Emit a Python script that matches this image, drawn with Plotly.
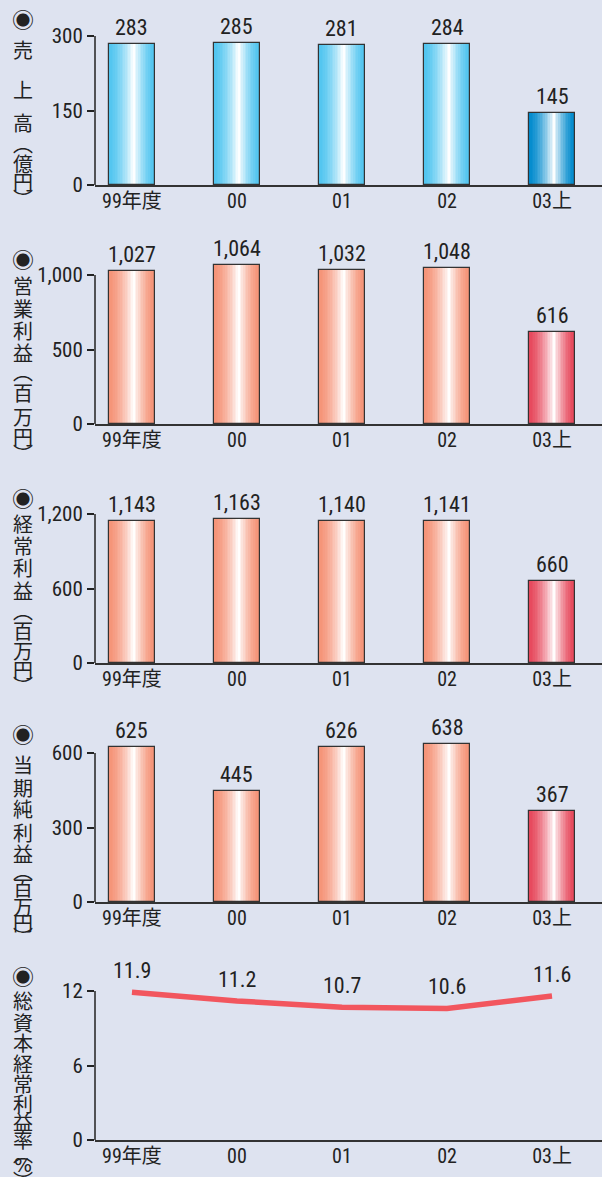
import plotly.graph_objects as go

# ---------------- data ----------------
categories = ["99年度", "00", "01", "02", "03上"]
sales = [283, 285, 281, 284, 145]               # 売上高(億円)
op_profit = [1027, 1064, 1032, 1048, 616]       # 営業利益(百万円)
ord_profit = [1143, 1163, 1140, 1141, 660]      # 経常利益(百万円)
net_profit = [625, 445, 626, 638, 367]          # 当期純利益(百万円)
roa = [11.9, 11.2, 10.7, 10.6, 11.6]            # 総資本経常利益率(%)

sales_ticks = [0, 150, 300]
op_ticks = [0, 500, 1000]
ord_ticks = [0, 600, 1200]
net_ticks = [0, 300, 600]
roa_ticks = [0, 6, 12]

value_fmt = ["{:,}", "{:,}", "{:,}", "{:,}", "{:.1f}"]

# ---------------- layout constants ----------------
W, H = 602, 1177
BG = "#dee3f0"
NUM_FONT = "Roboto Condensed, Noto Sans CJK JP"
CJK_FONT = "Noto Sans CJK JP"
TXT = "#222222"

zero_px = [185, 424, 663, 902, 1140]
top_tick_px = 149   # distance from zero to top tick
plot_h_px = 175
x_left_px = 95
x_range = [-0.352, 4.476]
bar_w = 0.438

blue_edge = (80, 197, 240)
blue_dark_edge = (0, 138, 205)
orange_edge = (245, 146, 118)
red_edge = (230, 70, 90)

panels = [
    dict(vals=sales, ticks=sales_ticks, kind="bar", edges=[blue_edge] * 4 + [blue_dark_edge]),
    dict(vals=op_profit, ticks=op_ticks, kind="bar", edges=[orange_edge] * 4 + [red_edge]),
    dict(vals=ord_profit, ticks=ord_ticks, kind="bar", edges=[orange_edge] * 4 + [red_edge]),
    dict(vals=net_profit, ticks=net_ticks, kind="bar", edges=[orange_edge] * 4 + [red_edge]),
    dict(vals=roa, ticks=roa_ticks, kind="line", edges=None),
]

side_labels = [
    [("◉", 18), ("売", 50), ("上", 90), ("高", 123), ("︵", 143), ("億", 163), ("円", 182), ("︶", 198)],
    [("◉", 258), ("営", 285), ("業", 308), ("利", 330), ("益", 352), ("︵", 372), ("百", 393), ("万", 416), ("円", 437), ("︶", 453)],
    [("◉", 497), ("経", 524), ("常", 546), ("利", 568), ("益", 590), ("︵", 610), ("百", 630), ("万", 650), ("円", 669), ("︶", 685)],
    [("◉", 733), ("当", 764), ("期", 787), ("純", 808), ("利", 832), ("益", 853), ("︵", 870), ("百", 887), ("万", 906), ("円", 922), ("︶", 936)],
    [("◉", 975), ("総", 1000), ("資", 1022), ("本", 1042), ("経", 1063), ("常", 1083), ("利", 1103), ("益", 1121), ("率", 1139), ("︵", 1153), ("%", 1165), ("︶", 1181)],
]

N_STRIPS = 28
PEAK = 0.55


def mix(c, t):
    r = int(round(c[0] + (255 - c[0]) * t))
    g = int(round(c[1] + (255 - c[1]) * t))
    b = int(round(c[2] + (255 - c[2]) * t))
    return f"rgb({r},{g},{b})"


def whiteness(t):
    if t <= PEAK:
        d = (PEAK - t) / PEAK
    else:
        d = (t - PEAK) / (1 - PEAK)
    return max(0.0, 1 - d) ** 1.6


fig = go.Figure()
layout_axes = {}
annotations = []
shapes = []
xs = list(range(len(categories)))

for i, p in enumerate(panels):
    n = i + 1
    xa = "x" if n == 1 else f"x{n}"
    ya = "y" if n == 1 else f"y{n}"
    top_tick = p["ticks"][-1]
    y_top = top_tick * plot_h_px / top_tick_px
    dom_bottom = 1 - zero_px[i] / H
    dom_top = 1 - (zero_px[i] - plot_h_px) / H

    if p["kind"] == "bar":
        sw = bar_w / N_STRIPS
        for k in range(N_STRIPS):
            t = (k + 0.5) / N_STRIPS
            wv = whiteness(t)
            cols = [mix(e, wv) for e in p["edges"]]
            fig.add_trace(go.Bar(
                x=xs, y=p["vals"], xaxis=xa, yaxis=ya,
                width=sw * 1.08, offset=-bar_w / 2 + k * sw,
                marker=dict(color=cols, line=dict(width=0)),
                showlegend=False, hoverinfo="skip",
            ))
        fig.add_trace(go.Bar(
            x=xs, y=p["vals"], xaxis=xa, yaxis=ya,
            width=bar_w, offset=-bar_w / 2,
            marker=dict(color="rgba(0,0,0,0)", line=dict(color="#333333", width=1.2)),
            showlegend=False, hoverinfo="skip",
        ))
        yshift = 2
    else:
        fig.add_trace(go.Scatter(
            x=xs, y=p["vals"], xaxis=xa, yaxis=ya, mode="lines",
            line=dict(color="#f2565e", width=5.5),
            showlegend=False, hoverinfo="skip", cliponaxis=False,
        ))
        yshift = 7

    for xv, v in zip(xs, p["vals"]):
        annotations.append(dict(
            x=xv, y=v, xref=xa, yref=ya, text=value_fmt[i].format(v),
            showarrow=False, yanchor="bottom", yshift=yshift,
            font=dict(family=NUM_FONT, size=22, color=TXT),
        ))

    # y axis line from 0 to top tick
    shapes.append(dict(
        type="line", xref=f"{xa} domain", yref=ya,
        x0=0, x1=0, y0=0, y1=top_tick,
        line=dict(color="#222222", width=1.5),
    ))

    layout_axes[f"xaxis{'' if n == 1 else n}"] = dict(
        domain=[x_left_px / W, 1], range=x_range, anchor=ya,
        tickvals=xs, ticktext=categories, ticks="",
        showline=True, linecolor="#333333", linewidth=1.5,
        showgrid=False, zeroline=False, fixedrange=True, automargin=False,
        ticklabelstandoff=-3,
        tickfont=dict(family=NUM_FONT, size=20, color=TXT),
    )
    layout_axes[f"yaxis{'' if n == 1 else n}"] = dict(
        domain=[dom_bottom, dom_top], range=[0, y_top], anchor=xa,
        tickvals=p["ticks"], ticktext=[f"{t:,}" for t in p["ticks"]],
        ticks="outside", ticklen=7, tickwidth=1.5, tickcolor="#222222",
        showline=False, showgrid=False, zeroline=False, fixedrange=True, automargin=False,
        tickfont=dict(family=NUM_FONT, size=21, color=TXT),
    )

    for ch, ypx in side_labels[i]:
        size = 20
        fam = CJK_FONT
        if ch == "◉":
            size = 22
        if ch == "%":
            fam = "DejaVu Sans, " + CJK_FONT
            size = 19
        annotations.append(dict(
            x=23 / W, y=1 - ypx / H, xref="paper", yref="paper",
            text=ch, showarrow=False, xanchor="center", yanchor="middle",
            font=dict(family=fam, size=size, color=TXT),
        ))

fig.update_layout(
    width=W, height=H, autosize=False,
    margin=dict(l=0, r=0, t=0, b=0, autoexpand=False),
    paper_bgcolor=BG, plot_bgcolor=BG,
    barmode="overlay", bargap=0,
    annotations=annotations, shapes=shapes,
    **layout_axes,
)

post = """
var de=document.documentElement, b=document.body;
de.style.margin='0'; de.style.padding='0'; de.style.overflow='hidden';
b.style.margin='0'; b.style.padding='0'; b.style.overflow='hidden';
"""
fig.write_html("out.html", config={"displayModeBar": False, "responsive": False}, post_script=post)
